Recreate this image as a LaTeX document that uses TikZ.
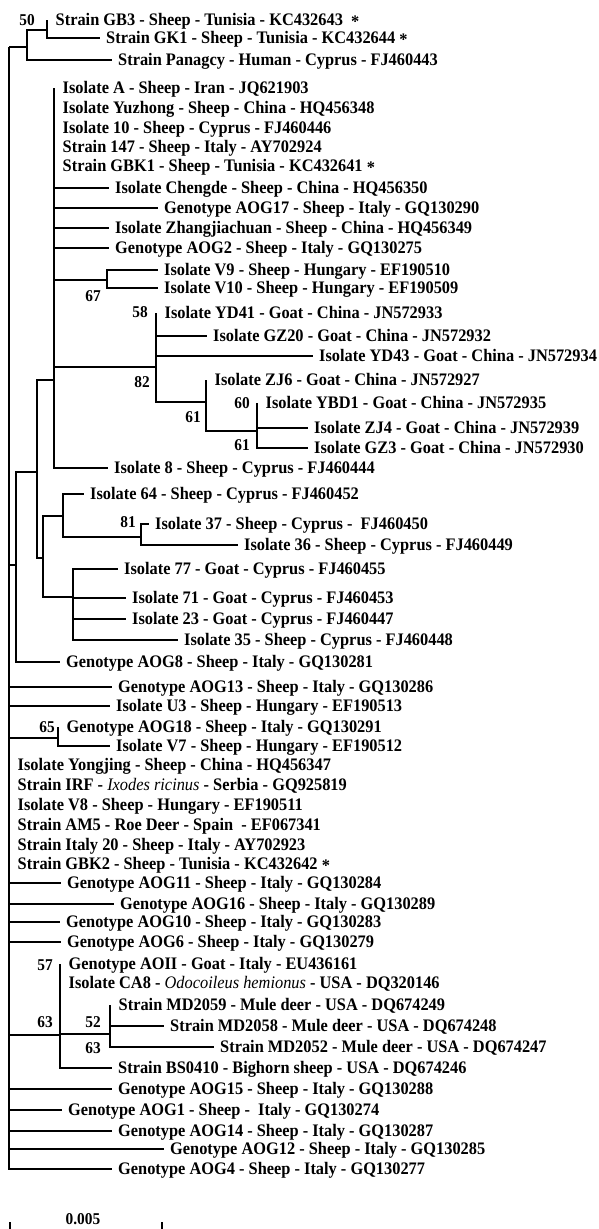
\documentclass[tikz,border=0pt]{standalone}
\usepackage{fontspec}
\setmainfont{Liberation Serif}[FakeStretch=0.93]
\newcommand{\mystar}{\raisebox{-0.3ex}{*}}
\begin{document}
\begin{tikzpicture}[x=1pt,y=-1pt,
  br/.style={line width=2.9pt,line join=miter},
  leaf/.style={anchor=west,inner xsep=6pt,inner ysep=0pt,text height=13pt,text depth=2pt,
    font=\fontsize{17.6}{19}\selectfont\bfseries},
  zl/.style={leaf,inner xsep=8.5pt},
  bs/.style={inner sep=0pt,font=\fontsize{16.5}{18}\selectfont\bfseries}]
\useasboundingbox (0,0) rectangle (599,1229);
% leaves
\node[zl]   (l1)  at (47,20)   {Strain GB3 - Sheep - Tunisia - KC432643 \ \mystar};
\node[leaf] (l2)  at (100,38)  {Strain GK1 - Sheep - Tunisia - KC432644 \mystar};
\node[leaf] (l3)  at (112,60)  {Strain Panagcy - Human - Cyprus - FJ460443};
\node[zl]   (l4)  at (54,88)   {Isolate A - Sheep - Iran - JQ621903};
\node[zl]   (l5)  at (54,108)  {Isolate Yuzhong - Sheep - China - HQ456348};
\node[zl]   (l6)  at (54,128)  {Isolate 10 - Sheep - Cyprus - FJ460446};
\node[zl]   (l7)  at (54,147)  {Strain 147 - Sheep - Italy - AY702924};
\node[zl]   (l8)  at (54,166)  {Strain GBK1 - Sheep - Tunisia - KC432641 \mystar};
\node[leaf] (l9)  at (109,188) {Isolate Chengde - Sheep - China - HQ456350};
\node[leaf] (l10) at (158,208) {Genotype AOG17 - Sheep - Italy - GQ130290};
\node[leaf] (l11) at (109,228) {Isolate Zhangjiachuan - Sheep - China - HQ456349};
\node[leaf] (l12) at (109,248) {Genotype AOG2 - Sheep - Italy - GQ130275};
\node[leaf] (l13) at (158,270) {Isolate V9 - Sheep - Hungary - EF190510};
\node[leaf] (l14) at (158,288) {Isolate V10 - Sheep - Hungary - EF190509};
\node[zl]   (l15) at (156,313) {Isolate YD41 - Goat - China - JN572933};
\node[leaf] (l16) at (207,336) {Isolate GZ20 - Goat - China - JN572932};
\node[leaf] (l17) at (313,356) {Isolate YD43 - Goat - China - JN572934};
\node[zl]   (l18) at (206,380) {Isolate ZJ6 - Goat - China - JN572927};
\node[zl]   (l19) at (257,403) {Isolate YBD1 - Goat - China - JN572935};
\node[leaf] (l20) at (308,428) {Isolate ZJ4 - Goat - China - JN572939};
\node[leaf] (l21) at (308,448) {Isolate GZ3 - Goat - China - JN572930};
\node[leaf] (l22) at (108,468) {Isolate 8 - Sheep - Cyprus - FJ460444};
\node[leaf] (l23) at (84,494)  {Isolate 64 - Sheep - Cyprus - FJ460452};
\node[leaf] (l24) at (149,524) {Isolate 37 - Sheep - Cyprus - \ FJ460450};
\node[leaf] (l25) at (238,545) {Isolate 36 - Sheep - Cyprus - FJ460449};
\node[leaf] (l26) at (118,569) {Isolate 77 - Goat - Cyprus - FJ460455};
\node[leaf] (l27) at (126,598) {Isolate 71 - Goat - Cyprus - FJ460453};
\node[leaf] (l28) at (126,619) {Isolate 23 - Goat - Cyprus - FJ460447};
\node[leaf] (l29) at (178,640) {Isolate 35 - Sheep - Cyprus - FJ460448};
\node[leaf] (l30) at (60,662)  {Genotype AOG8 - Sheep - Italy - GQ130281};
\node[leaf] (l31) at (112,687) {Genotype AOG13 - Sheep - Italy - GQ130286};
\node[leaf] (l32) at (110,706) {Isolate U3 - Sheep - Hungary - EF190513};
\node[zl]   (l33) at (58,727)  {Genotype AOG18 - Sheep - Italy - GQ130291};
\node[leaf] (l34) at (110,746) {Isolate V7 - Sheep - Hungary - EF190512};
\node[zl]   (l35) at (9,765)   {Isolate Yongjing - Sheep - China - HQ456347};
\node[zl]   (l36) at (9,785)   {Strain IRF - {\mdseries\itshape Ixodes ricinus} - Serbia - GQ925819};
\node[zl]   (l37) at (9,805)   {Isolate V8 - Sheep - Hungary - EF190511};
\node[zl]   (l38) at (9,825)   {Strain AM5 - Roe Deer - Spain \ - EF067341};
\node[zl]   (l39) at (9,845)   {Strain Italy 20 - Sheep - Italy - AY702923};
\node[zl]   (l40) at (9,864)   {Strain GBK2 - Sheep - Tunisia - KC432642 \mystar};
\node[leaf] (l41) at (61,883)  {Genotype AOG11 - Sheep - Italy - GQ130284};
\node[leaf] (l42) at (114,904) {Genotype AOG16 - Sheep - Italy - GQ130289};
\node[leaf] (l43) at (60,922)  {Genotype AOG10 - Sheep - Italy - GQ130283};
\node[leaf] (l44) at (61,942)  {Genotype AOG6 - Sheep - Italy - GQ130279};
\node[zl]   (l45) at (60,964)  {Genotype AOII - Goat - Italy - EU436161};
\node[zl]   (l46) at (60,983)  {Isolate CA8 - {\mdseries\itshape Odocoileus hemionus} - USA - DQ320146};
\node[zl]   (l47) at (110,1005) {Strain MD2059 - Mule deer - USA - DQ674249};
\node[leaf] (l48) at (164,1026) {Strain MD2058 - Mule deer - USA - DQ674248};
\node[leaf] (l49) at (214,1047) {Strain MD2052 - Mule deer - USA - DQ674247};
\node[leaf] (l50) at (112,1068) {Strain BS0410 - Bighorn sheep - USA - DQ674246};
\node[leaf] (l51) at (112,1089) {Genotype AOG15 - Sheep - Italy - GQ130288};
\node[leaf] (l52) at (62,1110)  {Genotype AOG1 - Sheep - \ Italy - GQ130274};
\node[leaf] (l53) at (112,1131) {Genotype AOG14 - Sheep - Italy - GQ130287};
\node[leaf] (l54) at (164,1149) {Genotype AOG12 - Sheep - Italy - GQ130285};
\node[leaf] (l55) at (112,1169) {Genotype AOG4 - Sheep - Italy - GQ130277};
% internal nodes
\coordinate (root) at (9,47);
\coordinate (nTop) at (27,47);
\coordinate (n50) at (47,30);
\coordinate (nB) at (16,565);
\coordinate (nB1) at (37,472);
\coordinate (nBig) at (54,380);
\coordinate (nV) at (107,280);
\coordinate (nYD) at (156,367);
\coordinate (nZJ) at (206,402);
\coordinate (nYB) at (257,431);
\coordinate (nCy) at (43,558);
\coordinate (n64) at (63,516);
\coordinate (n81) at (141,537);
\coordinate (n77) at (73,597);
\coordinate (n65) at (58,738);
\coordinate (nC) at (60,1035);
\coordinate (nMD) at (110,1034);
% branches
\foreach \c in {nTop,nB,l31.west,l32.west,n65,l35.west,l36.west,l37.west,l38.west,l39.west,l40.west,
  l41.west,l42.west,l43.west,l44.west,nC,l51.west,l52.west,l53.west,l54.west,l55.west}
  \draw[br] (root) |- (\c);
\foreach \c in {n50,l3.west} \draw[br] (nTop) |- (\c);
\foreach \c in {l1.west,l2.west} \draw[br] (n50) |- (\c);
\foreach \c in {nB1,l30.west} \draw[br] (nB) |- (\c);
\foreach \c in {nBig,nCy} \draw[br] (nB1) |- (\c);
\foreach \c in {l4.west,l5.west,l6.west,l7.west,l8.west,l9.west,l10.west,l11.west,l12.west,nV,nYD,l22.west}
  \draw[br] (nBig) |- (\c);
\foreach \c in {l13.west,l14.west} \draw[br] (nV) |- (\c);
\foreach \c in {l15.west,l16.west,l17.west,nZJ} \draw[br] (nYD) |- (\c);
\foreach \c in {l18.west,nYB} \draw[br] (nZJ) |- (\c);
\foreach \c in {l19.west,l20.west,l21.west} \draw[br] (nYB) |- (\c);
\foreach \c in {n64,n77} \draw[br] (nCy) |- (\c);
\foreach \c in {l23.west,n81} \draw[br] (n64) |- (\c);
\foreach \c in {l24.west,l25.west} \draw[br] (n81) |- (\c);
\foreach \c in {l26.west,l27.west,l28.west,l29.west} \draw[br] (n77) |- (\c);
\foreach \c in {l33.west,l34.west} \draw[br] (n65) |- (\c);
\foreach \c in {l45.west,l46.west,nMD,l50.west} \draw[br] (nC) |- (\c);
\foreach \c in {l47.west,l48.west,l49.west} \draw[br] (nMD) |- (\c);
% bootstrap values
\node[bs] (b1) at (27,20) {50};
\node[bs] (b2) at (93,296) {67};
\node[bs] (b3) at (140,312) {58};
\node[bs] (b4) at (142,382) {82};
\node[bs] (b5) at (193,417) {61};
\node[bs] (b6) at (242,403) {60};
\node[bs] (b7) at (242,445) {61};
\node[bs] (b8) at (128,522) {81};
\node[bs] (b9) at (47,727) {65};
\node[bs] (b10) at (45,965) {57};
\node[bs] (b11) at (45,1022) {63};
\node[bs] (b12) at (93,1022) {52};
\node[bs] (b13) at (93,1048) {63};
% scale bar
\coordinate (s1) at (10,1222);
\coordinate (s2) at (162,1222);
\draw[br] (s1) -- ++(0,8);
\draw[br] (s2) -- ++(0,8);
\node[bs] (sc) at (83,1219) {0.005};
\end{tikzpicture}
\end{document}
